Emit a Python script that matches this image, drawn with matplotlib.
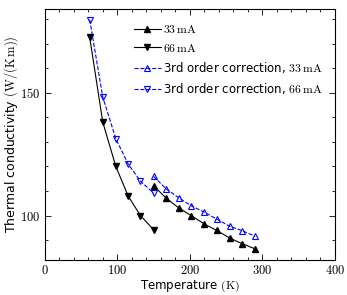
import matplotlib
matplotlib.use('Agg')
import matplotlib.pyplot as plt
from matplotlib.ticker import MultipleLocator

plt.rcParams['mathtext.fontset'] = 'cm'
plt.rcParams['font.family'] = 'DejaVu Sans'

# Daten
T_66 = [62, 80, 98, 115, 132, 150]
k_66 = [172.5, 138, 120, 108, 100, 94.3]

T_33 = [150, 167, 185, 202, 220, 237, 255, 272, 290]
k_33 = [112.2, 107.2, 103.1, 100, 96.6, 94, 90.9, 88.6, 86.5]

T_66c = [62, 80, 98, 115, 132, 150]
k_66c = [179.7, 148.2, 131.3, 121, 114, 109.2]

T_33c = [150, 167, 185, 202, 220, 237, 255, 272, 290]
k_33c = [116, 111, 107.2, 104, 101.4, 98.6, 95.7, 93.9, 91.6]

fig = plt.figure(figsize=(3.47, 2.95), dpi=100)
ax = fig.add_axes([0.129, 0.119, 0.836, 0.850])

ax.plot(T_33, k_33, '-', color='black', lw=0.8, marker='^', ms=4,
        label=r'$33\,\mathrm{mA}$')
ax.plot(T_66, k_66, '-', color='black', lw=0.8, marker='v', ms=4,
        label=r'$66\,\mathrm{mA}$')
ax.plot(T_33c, k_33c, '--', color='blue', lw=0.8, marker='^', ms=4.5,
        mfc='none', mew=0.8, label=r'3rd order correction, $33\,\mathrm{mA}$')
ax.plot(T_66c, k_66c, '--', color='blue', lw=0.8, marker='v', ms=4.5,
        mfc='none', mew=0.8, label=r'3rd order correction, $66\,\mathrm{mA}$')

ax.set_xlim(0, 400)
ax.set_ylim(82, 184)
ax.xaxis.set_minor_locator(MultipleLocator(20))
ax.yaxis.set_minor_locator(MultipleLocator(10))
ax.set_xticks([0, 100, 200, 300, 400])
ax.set_xticklabels([r'$0$', r'$100$', r'$200$', r'$300$', r'$400$'])
ax.set_yticks([100, 150])
ax.set_yticklabels([r'$100$', r'$150$'])

ax.tick_params(which='both', direction='in', top=True, right=True,
               labelsize=9, width=0.6, pad=3)
ax.tick_params(which='major', length=4)
ax.tick_params(which='minor', length=2)
for s in ax.spines.values():
    s.set_linewidth(0.8)

ax.set_xlabel(r'Temperature $(\mathrm{K})$', fontsize=8.5, labelpad=1)
ax.set_ylabel(r'Thermal conductivity $(\mathrm{W/(K\,m)})$', fontsize=9, labelpad=0)

ax.legend(loc='upper left', bbox_to_anchor=(0.29, 0.965), frameon=False,
          fontsize=8.5, handlelength=2.3, handletextpad=0.2, labelspacing=0.5,
          borderaxespad=0)

fig.savefig('out.png', dpi=100)
